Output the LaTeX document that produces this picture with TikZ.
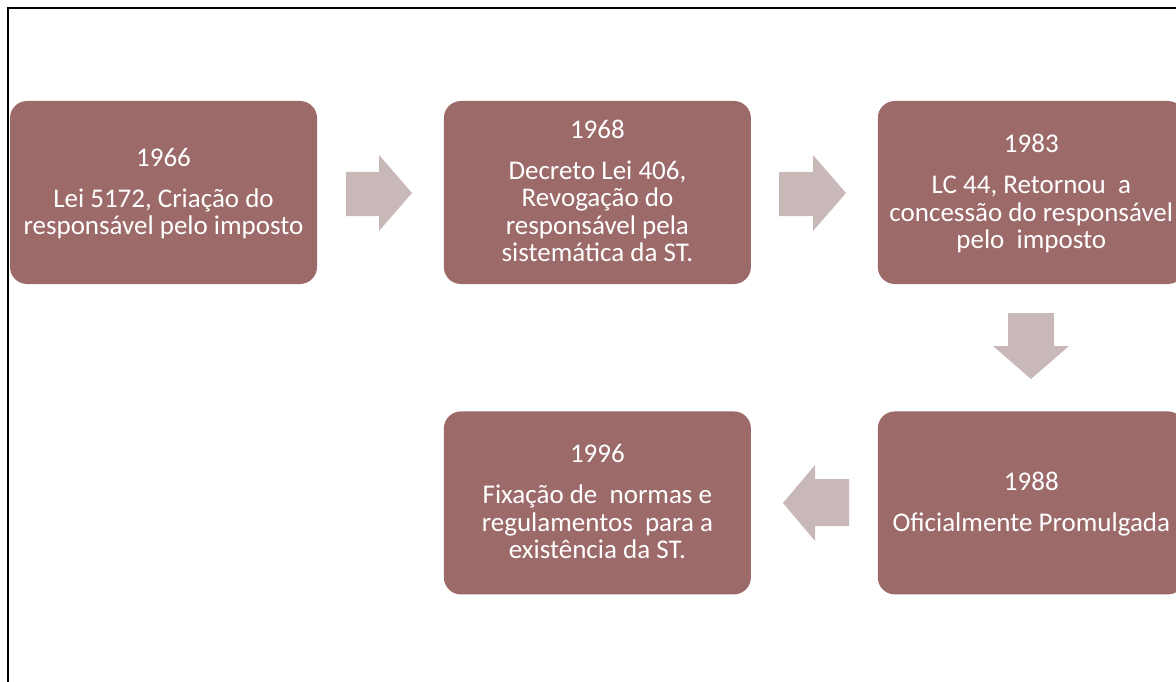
\documentclass[tikz,border=0pt]{standalone}
\usepackage{fontspec}
\setmainfont{Carlito}
\usetikzlibrary{positioning}

\definecolor{boxred}{RGB}{157,106,106}
\definecolor{arrowpink}{RGB}{201,184,184}

\tikzset{
  yearbox/.style={fill=boxred, rounded corners=17pt, minimum width=307pt,
    minimum height=183pt, inner sep=0pt},
  boxtext/.style={text=white, align=center, inner sep=0pt, anchor=base,
    font=\fontsize{27}{27.5}\selectfont},
  blockarrow/.style={fill=arrowpink},
  frameline/.style={line width=1.6pt, black}
}

\begin{document}
\begin{tikzpicture}[x=1pt, y=-1pt]
    \useasboundingbox (0,0) rectangle (1176,682);
    \clip (0,0) rectangle (1176,682);
    \draw[frameline] (7,8) -- (1176,8);
    \draw[frameline] (8,8) -- (8,682);

    \node[yearbox] (b1) at (163.5,192.5) {};
    \node[yearbox, right=126.5pt of b1] (b2) {};
    \node[yearbox, right=126.5pt of b2] (b3) {};
    \node[yearbox, below=127pt of b3] (b4) {};
    \node[yearbox, left=126.5pt of b4] (b5) {};

    % texto ancorado na linha de base da ultima linha
    \node[boxtext] (t1) at ([yshift=-42pt]b1.center)
        {1966\\[13.5pt]Lei 5172, Criação do\\responsável pelo imposto};
    \node[boxtext] (t2) at ([yshift=-69pt]b2.center)
        {1968\\[13.5pt]Decreto Lei 406,\\Revogação do\\responsável pela\\sistemática da ST.};
    \node[boxtext] (t3) at ([yshift=-56pt]b3.center)
        {1983\\[13.5pt]LC 44, Retornou\ \ a\\concessão do responsável\\pelo\ \ imposto};
    \node[boxtext] (t4) at ([yshift=-29pt]b4.center)
        {1988\\[13.5pt]Oficialmente Promulgada};
    \node[boxtext] (t5) at ([yshift=-56pt]b5.center)
        {1996\\[13.5pt]Fixação de\ \ normas e\\regulamentos\ \ para a\\existência da ST.};

    % setas entre as caixas
    \fill[blockarrow] (346,172) -- (379,172) -- (379,155) -- (412,193)
        -- (379,231) -- (379,216) -- (346,216) -- cycle;
    \fill[blockarrow] (779,172) -- (813,172) -- (813,155) -- (846,193)
        -- (813,231) -- (813,216) -- (779,216) -- cycle;
    \fill[blockarrow] (1008,313) -- (1054,313) -- (1054,346) -- (1069,346)
        -- (1031,379) -- (993,346) -- (1008,346) -- cycle;
    \fill[blockarrow] (849,479) -- (815,479) -- (815,465) -- (783,503)
        -- (815,541) -- (815,526) -- (849,526) -- cycle;
\end{tikzpicture}
\end{document}
